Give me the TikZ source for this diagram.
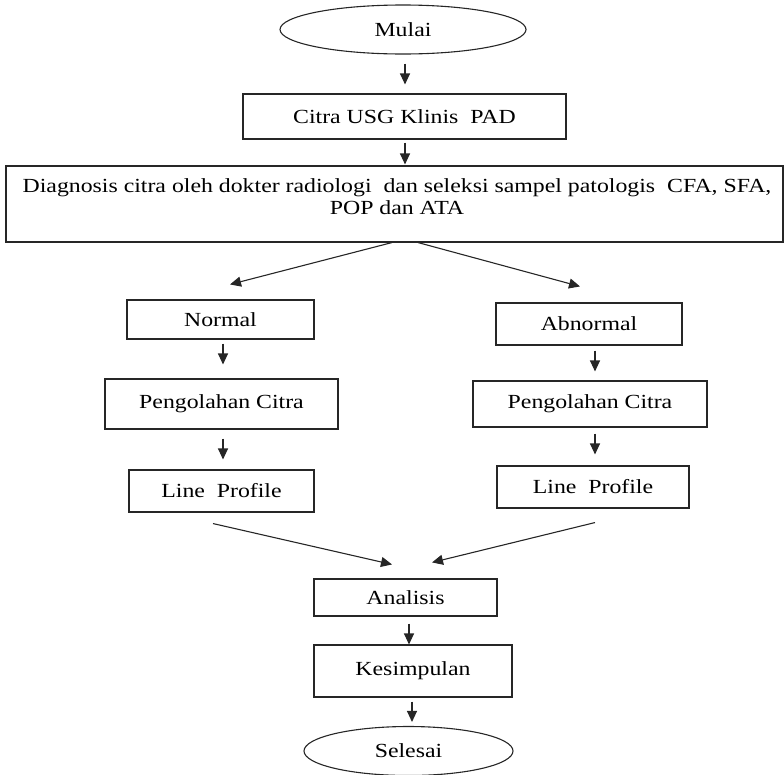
\documentclass[tikz,border=0pt]{standalone}
\usepackage{fontspec}
\setmainfont[FakeStretch=1.19]{Liberation Serif}
\usetikzlibrary{shapes.geometric,arrows.meta,calc}

\tikzset{
  kotak/.style={draw=black!85, line width=1.1pt, inner sep=0pt, font=\fontsize{20}{22}\selectfont},
  oval/.style={kotak, ellipse},
  panah/.style={draw=black!85, line width=1.1pt, -{Triangle[length=11pt,width=10pt]}}
}

\begin{document}
\begin{tikzpicture}[x=1pt,y=-1pt]
\useasboundingbox (0,0) rectangle (784,774);

% alur utama
\node[oval, minimum width=246pt, minimum height=49pt] (mulai) at (403,29.5) {Mulai};
\node[kotak, minimum width=323pt, minimum height=45pt] (citra) at (404.5,116.5) {Citra USG Klinis\ \ PAD};
\node[kotak, minimum width=777pt, minimum height=76pt] (diag) at (394.5,204) {};
\node[font=\fontsize{20}{22}\selectfont, align=center, inner sep=0pt] (diagteks) at (397,197)
  {Diagnosis citra oleh dokter radiologi\ \ dan seleksi sampel patologis\ \ CFA, SFA,\\ POP dan ATA};

% cabang normal
\node[kotak, minimum width=187pt, minimum height=39pt] (normal) at (220.5,319.5) {Normal};
\node[kotak, minimum width=233pt, minimum height=50pt] (peng1) at (221.5,404) {Pengolahan Citra};
\node[kotak, minimum width=185pt, minimum height=42pt] (line1) at (221.5,491) {Line\ \ Profile};

% cabang abnormal
\node[kotak, minimum width=186pt, minimum height=42pt] (abnormal) at (589,324) {Abnormal};
\node[kotak, minimum width=234pt, minimum height=46pt] (peng2) at (590,404) {Pengolahan Citra};
\node[kotak, minimum width=192pt, minimum height=42pt] (line2) at (593,487) {Line\ \ Profile};

% akhir
\node[kotak, minimum width=183pt, minimum height=37pt] (analisis) at (405.5,597.5) {Analisis};
\node[kotak, minimum width=198pt, minimum height=52pt] (kesimpulan) at (413,671) {Kesimpulan};
\node[oval, minimum width=209pt, minimum height=49pt] (selesai) at (408.5,751) {Selesai};

% panah
\draw[panah] ($(mulai.south)+(2,9)$) -- ($(citra.north)+(0.5,-9)$);
\draw[panah] ($(citra.south)+(0.5,3)$) -- ($(diag.north)+(10.5,-1)$);
\draw[panah] ($(diag.south)+(-2.5,0)$) -- ($(normal.north)+(9.5,-15)$);
\draw[panah] ($(diag.south)+(23.5,0)$) -- ($(abnormal.north)+(-9,-16)$);
\draw[panah] ($(normal.south)+(2.5,4)$) -- ($(peng1.north)+(1.5,-14)$);
\draw[panah] ($(peng1.south)+(1.5,9)$) -- ($(line1.north)+(1.5,-10)$);
\draw[panah] ($(abnormal.south)+(6,5)$) -- ($(peng2.north)+(5,-9)$);
\draw[panah] ($(peng2.south)+(5,6)$) -- ($(line2.north)+(2,-11)$);
\draw[panah] ($(line1.south)+(-8.5,11)$) -- ($(analisis.north)+(-13.5,-14)$);
\draw[panah] ($(line2.south)+(2,14)$) -- ($(analisis.north)+(26.5,-16)$);
\draw[panah] ($(analisis.south)+(3.5,7)$) -- ($(kesimpulan.north)+(-4,0)$);
\draw[panah] ($(kesimpulan.south)+(-1,4)$) -- ($(selesai.north)+(3.5,-4)$);
\end{tikzpicture}
\end{document}
